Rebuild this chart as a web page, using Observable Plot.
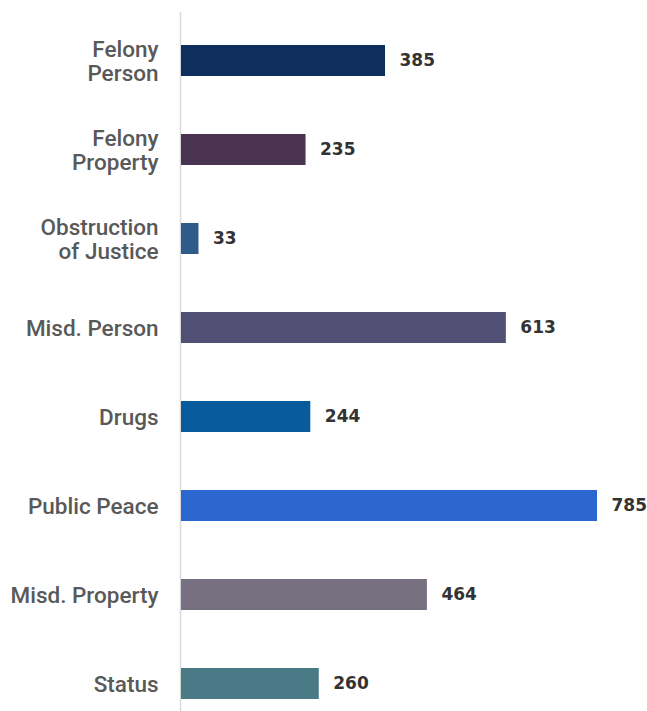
<!DOCTYPE html>
<html>
<head>
<meta charset="utf-8">
<script src="https://cdn.jsdelivr.net/npm/d3@7"></script>
<script src="https://cdn.jsdelivr.net/npm/@observablehq/plot@0.6"></script>
<style>
  html, body { margin: 0; padding: 0; background: #fff; }
  #chart svg { display: block; }
</style>
</head>
<body>
<div id="chart"></div>
<script>
const categories = ["Felony Person", "Felony Property", "Obstruction of Justice", "Misd. Person", "Drugs", "Public Peace", "Misd. Property", "Status"];
const labels = ["Felony\nPerson", "Felony\nProperty", "Obstruction\nof Justice", "Misd. Person", "Drugs", "Public Peace", "Misd. Property", "Status"];
const values = [385, 235, 33, 613, 244, 785, 464, 260];
const colors = ["#0e2e5d", "#4b3452", "#2f5b8b", "#524f75", "#085b9d", "#2b67cf", "#767081", "#4a7a86"];

const data = categories.map((c, i) => ({cat: c, label: labels[i], value: values[i], color: colors[i]}));

const chart = Plot.plot({
  width: 647,
  height: 711,
  marginLeft: 181,
  marginRight: 50,
  marginTop: 12,
  marginBottom: 0,
  x: {domain: [0, 785], axis: null},
  y: {domain: categories, range: [34.6, 709.4], paddingInner: 0.653, paddingOuter: 0.1, axis: null},
  style: {fontFamily: "Roboto, 'Liberation Sans', Arial, sans-serif", background: "#fff"},
  marks: [
    Plot.ruleX([0], {stroke: "#d9d9d9", strokeWidth: 1.5, dx: -1}),
    Plot.barX(data, {y: "cat", x: "value", fill: "color"}),
    Plot.text(data, {y: "cat", x: 0, text: "label", dx: -23, textAnchor: "end", fontSize: 22.5, fontWeight: 500, lineHeight: 1.1, fill: "#595959"}),
    Plot.text(data, {y: "cat", x: "value", text: d => String(d.value), dx: 14, textAnchor: "start", fontSize: 17, fontWeight: "bold", fontFamily: "'DejaVu Sans', sans-serif", fill: "#333333"})
  ]
});
document.getElementById("chart").appendChild(chart);
</script>
</body>
</html>
